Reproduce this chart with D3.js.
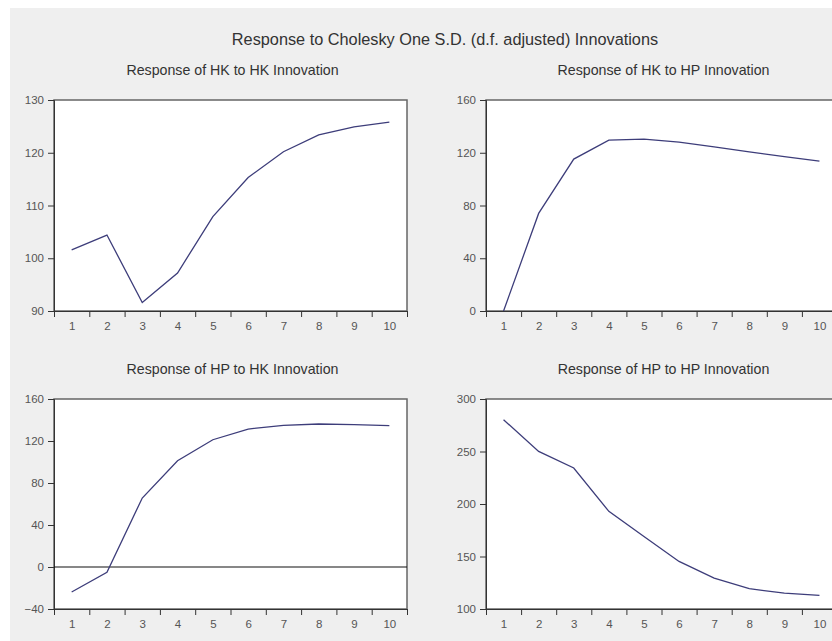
<!DOCTYPE html>
<html>
<head>
<meta charset="utf-8">
<script src="https://cdn.jsdelivr.net/npm/d3@7"></script>
<style>
body{margin:0;background:#fff;}
svg{display:block;font-family:"Liberation Sans",Arial,sans-serif;}
.axis text{fill:#555;font-size:11.5px;}
.axis path,.axis line{stroke:#333;}
</style>
</head>
<body>
<svg></svg>
<script>
// periods 1..10
var periods=[1,2,3,4,5,6,7,8,9,10]

var hkToHk=[101.6,104.4,91.6,97.2,107.9,115.3,120.2,123.4,124.9,125.8]
var hkToHp=[0,74,115.2,129.6,130.4,128.1,124.5,120.7,117,113.7]
var hpToHk=[-23.8,-5.1,65.7,101.2,121.2,131.4,134.9,136.2,135.5,134.6]
var hpToHp=[280.3,250.1,234.3,193,169,145.3,129.4,119.3,115.2,113]

var titles=["Response of HK to HK Innovation","Response of HK to HP Innovation",
    "Response of HP to HK Innovation","Response of HP to HP Innovation"]
var yDomains=[[90,130],[0,160],[-40,160],[100,300]]
var yTicks=[[90,100,110,120,130],[0,40,80,120,160],[-40,0,40,80,120,160],[100,150,200,250,300]]

var mainTitle="Response to Cholesky One S.D. (d.f. adjusted) Innovations"

var width=832
var height=641

var svg=d3.select("svg")
    .attr("width",width)
    .attr("height",height)

svg.append("rect")
    .attr("x",10).attr("y",8)
    .attr("width",width).attr("height",height)
    .attr("fill","#efefef")

svg.append("text")
    .attr("x",445).attr("y",45)
    .attr("text-anchor","middle")
    .attr("font-size","16.3px")
    .attr("fill","#333")
    .text(mainTitle)

var boxes=[
    {left:54,right:407,top:100,bottom:311},
    {left:486,right:837,top:100,bottom:311},
    {left:54,right:407,top:399,bottom:609},
    {left:486,right:837,top:399,bottom:609}
]
var series=[hkToHk,hkToHp,hpToHk,hpToHp]

var drawPanel=function(i){
    var b=boxes[i]
    var xScale=d3.scaleLinear().domain([0.5,10.5]).range([b.left,b.right])
    var yScale=d3.scaleLinear().domain(yDomains[i]).range([b.bottom,b.top])

    svg.append("text")
        .attr("x",(b.left+b.right)/2+2)
        .attr("y",b.top-25)
        .attr("text-anchor","middle")
        .attr("font-size","14.2px")
        .attr("fill","#333")
        .text(titles[i])

    svg.append("rect")
        .attr("x",b.left).attr("y",b.top)
        .attr("width",b.right-b.left).attr("height",b.bottom-b.top)
        .attr("fill","#fff")
        .attr("stroke","#666")
        .attr("stroke-width",1.5)

    //tick marks between periods
    svg.append("g")
        .attr("class","axis")
        .attr("transform","translate(0,"+b.bottom+")")
        .call(d3.axisBottom(xScale).tickValues(d3.range(0.5,11,1)).tickSize(6).tickFormat(""))
    //period labels
    svg.append("g")
        .attr("class","axis")
        .attr("transform","translate(0,"+b.bottom+")")
        .call(d3.axisBottom(xScale).tickValues(periods).tickSize(0).tickPadding(11).tickFormat(d3.format("d")))
        .call(function(g){g.select(".domain").remove()})

    svg.append("g")
        .attr("class","axis")
        .attr("transform","translate("+b.left+",0)")
        .call(d3.axisLeft(yScale).tickValues(yTicks[i]).tickSize(6).tickPadding(4).tickFormat(d3.format("d")))

    if(yDomains[i][0]<0){
        svg.append("line")
            .attr("x1",b.left).attr("x2",b.right)
            .attr("y1",yScale(0)).attr("y2",yScale(0))
            .attr("stroke","#111")
            .attr("stroke-width",1.2)
    }

    var line=d3.line()
        .x(function(d,j){return xScale(periods[j])})
        .y(function(d){return yScale(d)})

    svg.append("path")
        .datum(series[i])
        .attr("d",line)
        .attr("fill","none")
        .attr("stroke","#3d3d7a")
        .attr("stroke-width",1.3)
}

for(var i=0;i<4;i++){drawPanel(i)}
</script>
</body>
</html>
